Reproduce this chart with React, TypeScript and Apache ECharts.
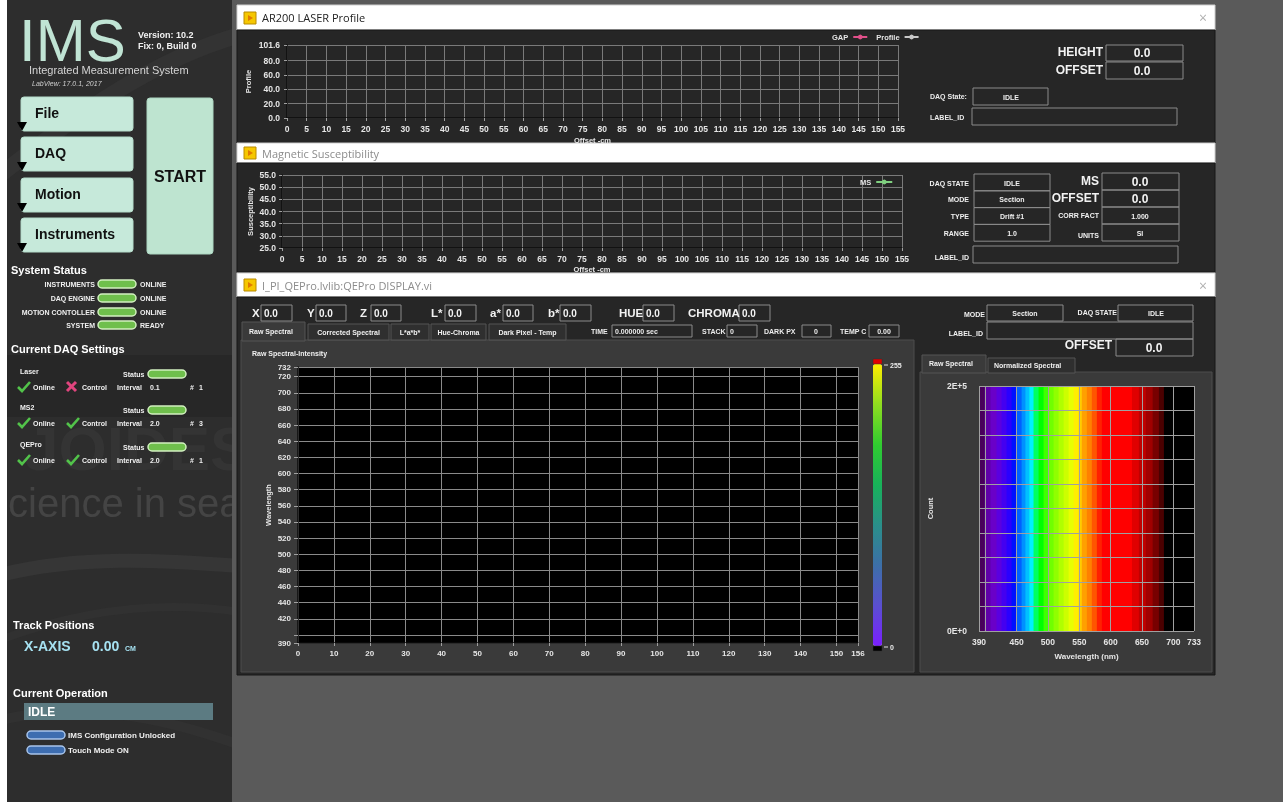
import React, { useEffect, useRef } from "react";
import * as echarts from "echarts";

// ---------------- data ----------------
const LASER_X_RANGE = [0, 155];
const LASER_X_STEP = 5;
const LASER_Y_TICKS = [0, 20, 40, 60, 80, 101.6];
const GAP_VALUES: number[][] = [];
const PROFILE_VALUES: number[][] = [];

const MS_X_RANGE = [0, 155];
const MS_Y_RANGE = [25, 55];
const MS_Y_STEP = 5;
const MS_VALUES: number[][] = [];

const HEAT_X_RANGE = [0, 156];
const HEAT_X_STEP = 10;
const HEAT_Y_RANGE = [390, 732];
const HEAT_Y_TICKS = [390, 400, 420, 440, 460, 480, 500, 520, 540, 560, 580, 600, 620, 640, 660, 680, 700, 720, 732];
const HEAT_Y_LABELS = [390, 420, 440, 460, 480, 500, 520, 540, 560, 580, 600, 620, 640, 660, 680, 700, 720, 732];
const INTENSITY_VALUES: number[][] = [];
const INTENSITY_RANGE = [0, 255];

const SPEC_X_RANGE = [390, 733];
const SPEC_X_TICKS = [390, 400, 450, 500, 550, 600, 650, 700, 733];
const SPEC_X_LABELS = [390, 450, 500, 550, 600, 650, 700, 733];
const COUNT_RANGE = [0, 200000];
const COUNT_STEP = 20000;
const BAND_START = [390, 399, 408, 418, 426, 434, 442, 450, 458, 464, 470, 477, 485, 493, 501, 509, 517, 525, 533, 541, 549, 554, 562, 570, 578, 586, 634, 645, 656, 667, 677, 685];
const BAND_COLORS = ["#48005a", "#6000a8", "#6a00c8", "#5a00e0", "#4400f0", "#2a00ff", "#0010ff", "#0060ff", "#0090ff", "#00c0ff", "#00f0ff", "#00ff60", "#00ff00", "#40ff00", "#70ff00", "#90ff00", "#b0ff00", "#ccff00", "#e8ff00", "#ffee00", "#ffcc00", "#ffa000", "#ff8000", "#ff5500", "#ff2000", "#ff0000", "#e00000", "#c00000", "#a00000", "#780000", "#4a0000", "#000000"];

// ---------------- helpers ----------------
const F = "Arial, 'Liberation Sans', sans-serif";
const FT = "'Open Sans', 'Noto Sans', sans-serif";
const g: any[] = [];
const rect = (x: number, y: number, w: number, h: number, fill: any, stroke?: string, lw = 1, r = 0, z = -10) =>
  g.push({ type: "rect", z, silent: true, shape: { x, y, width: w, height: h, r }, style: { fill, stroke: stroke || null, lineWidth: lw } });
const text = (x: number, y: number, t: string, font: string, fill = "#ececec", align = "left", z = 60) =>
  g.push({ type: "text", z, silent: true, x, y, style: { text: t, font, fill, textAlign: align, textVerticalAlign: "middle", align, verticalAlign: "middle" } });
const box = (x: number, y: number, w: number, h: number) => rect(x, y, w, h, "rgba(0,0,0,0)", "#8a8a8a", 1, 0, 40);
const pill = (x: number, y: number, fill: string, stroke: string) => rect(x, y, 38, 8, fill, stroke, 1.5, 4, 40);
const green = (x: number, y: number) => pill(x, y, "#6fbf4c", "#d2f0c0");
const blue = (x: number, y: number) => pill(x, y, "#3d6db0", "#a8c4ea");
const check = (x: number, y: number) =>
  g.push({ type: "polyline", z: 50, silent: true, shape: { points: [[x, y], [x + 4, y + 4], [x + 12, y - 5]] }, style: { stroke: "#52c34a", lineWidth: 2.6, fill: null } });
const cross = (x: number, y: number) => {
  g.push({ type: "line", z: 50, silent: true, shape: { x1: x, y1: y - 5, x2: x + 9, y2: y + 4 }, style: { stroke: "#e0457e", lineWidth: 3 } });
  g.push({ type: "line", z: 50, silent: true, shape: { x1: x + 9, y1: y - 5, x2: x, y2: y + 4 }, style: { stroke: "#e0457e", lineWidth: 3 } });
};
const tri = (x: number, y: number) =>
  g.push({ type: "polygon", z: 50, silent: true, shape: { points: [[x, y], [x + 10, y], [x + 5, y + 9]] }, style: { fill: "#000" } });
const icon = (x: number, y: number) => {
  rect(x, y, 12, 12, "#f6c700", "#b88a00", 1, 0, 40);
  g.push({ type: "polygon", z: 45, silent: true, shape: { points: [[x + 4, y + 3], [x + 9, y + 6], [x + 4, y + 9]] }, style: { fill: "#e07a00" } });
};
const swoosh = (x1: number, y1: number, cx1: number, cy1: number, cx2: number, cy2: number, x2: number, y2: number, color: string, w: number) =>
  g.push({ type: "bezierCurve", z: -90, silent: true, shape: { x1, y1, cpx1: cx1, cpy1: cy1, cpx2: cx2, cpy2: cy2, x2, y2 }, style: { stroke: color, lineWidth: w, fill: null } });

const b7 = `bold 7px ${F}`;
const b8 = `bold 8px ${F}`;
const b11 = `bold 11px ${F}`;
const b12 = `bold 12px ${F}`;
const b14 = `bold 14px ${F}`;

// page & sidebar
rect(0, 0, 1283, 802, "#5a5a5a", undefined, 1, 0, -100);
rect(7, 0, 225, 802, "#2d2d2d", undefined, 1, 0, -95);
rect(7, 355, 225, 62, "#272727", undefined, 1, 0, -92);
swoosh(0, 175, 70, 120, 150, 60, 240, 35, "#333333", 16);
swoosh(0, 575, 80, 555, 160, 560, 240, 566, "#363636", 14);
swoosh(0, 640, 80, 610, 160, 600, 240, 612, "#313131", 8);
swoosh(0, 720, 90, 700, 170, 720, 240, 745, "#313131", 10);
text(24, 448, "JOIDES", `bold 62px ${F}`, "#343434", "left", -85);
text(8, 503, "cience in sea", `40px ${F}`, "#444444", "left", -85);
rect(232, 0, 1051, 802, "#5a5a5a", undefined, 1, 0, -80);
rect(0, 0, 7, 802, "#ffffff", undefined, 1, 0, -79);

text(19, 40, "IMS", `60px ${F}`, "#c0e4d4");
text(138, 35, "Version: 10.2", `bold 9px ${F}`, "#f2f2f2");
text(138, 46, "Fix: 0, Build 0", `bold 9px ${F}`, "#f2f2f2");
text(29, 70, "Integrated Measurement System", `11px ${F}`, "#d4d4d4");
text(32, 83, "LabView: 17.0.1, 2017", `italic 7px ${F}`, "#cfcfcf");

const BTN = [["File", 97], ["DAQ", 137], ["Motion", 178], ["Instruments", 218]] as const;
BTN.forEach(([t, y]) => {
  rect(21, y, 112, 34, "#c6e9da", "#b5dccb", 1, 3, 20);
  text(35, y + 16, t, b14, "#111111");
  tri(17, y + 25);
});
rect(147, 98, 66, 156, "#bee4d0", "#acd6c1", 1, 3, 20);
text(180, 176, "START", `bold 16px ${F}`, "#111111", "center");

text(11, 270, "System Status", b11, "#ffffff");
const SYS = [["INSTRUMENTS", "ONLINE", 284], ["DAQ ENGINE", "ONLINE", 298], ["MOTION CONTOLLER", "ONLINE", 312], ["SYSTEM", "READY", 325]] as const;
SYS.forEach(([a, b, y]) => {
  text(95, y, a, b7, "#f0f0f0", "right");
  green(98, y - 4);
  text(140, y, b, b7, "#f0f0f0");
});

text(11, 349, "Current DAQ Settings", b11, "#ffffff");
const DAQ = [["Laser", 371, false, "0.1", "1"], ["MS2", 407, true, "2.0", "3"], ["QEPro", 444, true, "2.0", "1"]] as const;
DAQ.forEach(([name, y, ctl, iv, n]) => {
  text(20, y, name, b7, "#f0f0f0");
  text(123, y + 3, "Status", b7, "#f0f0f0");
  green(148, y - 1);
  const r = y + 16;
  check(18, r);
  text(33, r, "Online", b7, "#f0f0f0");
  if (ctl) check(67, r); else cross(67, r);
  text(82, r, "Control", b7, "#f0f0f0");
  text(117, r, "Interval", b7, "#f0f0f0");
  text(150, r, iv, b7, "#f0f0f0");
  text(190, r, "#", b7, "#f0f0f0");
  text(199, r, n, b7, "#f0f0f0");
});

text(13, 625, "Track Positions", b11, "#ffffff");
text(24, 646, "X-AXIS", b14, "#a6e2f2");
text(92, 646, "0.00", b14, "#a6e2f2");
text(125, 648, "CM", `bold 7px ${F}`, "#a6e2f2");
text(13, 693, "Current Operation", b11, "#ffffff");
rect(24, 703, 189, 17, "#5c7b82", undefined, 1, 0, 20);
text(28, 712, "IDLE", b12, "#ffffff");
blue(27, 731);
text(68, 735, "IMS Configuration Unlocked", b8, "#f0f0f0");
blue(27, 746);
text(68, 750, "Touch Mode ON", b8, "#f0f0f0");

// windows
const win = (y: number, th: number, ch: number, title: string, tc: string, close: boolean) => {
  rect(237, y, 978, th, "#ffffff", "#cfcfcf", 1, 0, -60);
  rect(237, y + th, 978, ch, "#262626", "#161616", 1, 0, -60);
  icon(244, y + Math.round(th / 2) - 6);
  text(262, y + th / 2, title, `11px ${FT}`, tc);
  if (close) text(1203, y + th / 2, "×", `14px ${FT}`, "#b0b0b0", "center");
};
win(5, 25, 113, "AR200 LASER Profile", "#222222", true);
win(143, 20, 109, "Magnetic Susceptibility", "#8c8c8c", false);
win(273, 24, 378, "I_PI_QEPro.lvlib:QEPro DISPLAY.vi", "#8c8c8c", true);

// laser right side
text(1103, 52, "HEIGHT", b12, "#f2f2f2", "right");
box(1106, 45, 77, 16);
text(1142, 53, "0.0", b12, "#f2f2f2", "center");
text(1103, 70, "OFFSET", b12, "#f2f2f2", "right");
box(1106, 62, 77, 17);
text(1142, 71, "0.0", b12, "#f2f2f2", "center");
text(930, 96, "DAQ State:", b7);
box(973, 88, 75, 17);
text(1011, 97, "IDLE", b7, "#f0f0f0", "center");
text(930, 117, "LABEL_ID", b7);
box(972, 108, 205, 17);

// MS right side
const MSL = [["DAQ STATE", "IDLE"], ["MODE", "Section"], ["TYPE", "Drift #1"], ["RANGE", "1.0"]];
MSL.forEach(([a, b], i) => {
  const y = 174 + i * 16.8;
  text(969, y + 9, a, b7, "#f0f0f0", "right");
  box(974, y, 76, 16.8);
  text(1012, y + 9, b, b7, "#f0f0f0", "center");
});
const MSR = [["MS", "0.0", b12, b12], ["OFFSET", "0.0", b12, b12], ["CORR FACT", "1.000", b7, b7], ["UNITS", "SI", b7, b7]];
MSR.forEach(([a, b, fa, fb], i) => {
  const y = 173 + i * 17;
  text(1099, y + 8 + (i === 3 ? 3 : 0), a, fa, "#f2f2f2", "right");
  box(1102, y, 77, 17);
  text(1140, y + 9, b, fb, "#f2f2f2", "center");
});
text(969, 257, "LABEL_ID", b7, "#f0f0f0", "right");
box(973, 246, 205, 17);

// QEPro top row
const QV = [["X", 252, 261, 31], ["Y", 307, 316, 30], ["Z", 360, 371, 30], ["L*", 431, 445, 31], ["a*", 490, 503, 30], ["b*", 548, 560, 31], ["HUE", 619, 643, 31], ["CHROMA", 688, 739, 31]] as const;
QV.forEach(([t, tx, bx, bw]) => {
  text(tx, 313, t, `bold 11.5px ${F}`, "#f2f2f2");
  box(bx, 305, bw, 16);
  text(bx + 3, 313, "0.0", `bold 10px ${F}`, "#f2f2f2");
});
rect(241, 340, 673, 332, "#3a3a3a", "#4c4c4c", 1, 0, -50);
rect(242, 322, 63, 19, "#3a3a3a", "#555555", 1, 0, -45);
text(249, 331, "Raw Spectral", b7, "#f0f0f0");
const TABS = [["Corrected Spectral", 308, 81], ["L*a*b*", 391, 38], ["Hue-Chroma", 431, 55], ["Dark Pixel - Temp", 489, 77]] as const;
TABS.forEach(([t, x, w]) => {
  rect(x, 324, w, 16, "#2f2f2f", "#555555", 1, 0, -45);
  text(x + w / 2, 332, t, b7, "#f0f0f0", "center");
});
text(591, 331, "TIME", b7);
box(612, 325, 80, 12);
text(615, 331, "0.000000 sec", b7);
text(702, 331, "STACK", b7);
box(727, 325, 30, 12);
text(730, 331, "0", b7);
text(764, 331, "DARK PX", b7);
box(802, 325, 29, 12);
text(816, 331, "0", b7, "#f0f0f0", "center");
text(840, 331, "TEMP C", b7);
box(869, 325, 30, 12);
text(884, 331, "0.00", b7, "#f0f0f0", "center");
text(252, 353, "Raw Spectral-Intensity", b7, "#f0f0f0");
rect(873, 359, 9, 5, "#e00000", "#333", 0.5, 0, 30);
rect(873, 646, 9, 5, "#000000", "#333", 0.5, 0, 30);
g.push({ type: "line", z: 30, silent: true, shape: { x1: 884, y1: 365, x2: 888, y2: 365 }, style: { stroke: "#ddd", lineWidth: 1 } });
g.push({ type: "line", z: 30, silent: true, shape: { x1: 884, y1: 647, x2: 888, y2: 647 }, style: { stroke: "#ddd", lineWidth: 1 } });
text(890, 365, String(INTENSITY_RANGE[1]), b7);
text(890, 647, String(INTENSITY_RANGE[0]), b7);

// QEPro right section
text(985, 314, "MODE", b7, "#f0f0f0", "right");
box(987, 305, 76, 16);
text(1025, 313, "Section", b7, "#f0f0f0", "center");
text(1117, 312, "DAQ STATE", b7, "#f0f0f0", "right");
box(1118, 305, 75, 16);
text(1156, 313, "IDLE", b7, "#f0f0f0", "center");
text(983, 333, "LABEL_ID", b7, "#f0f0f0", "right");
box(987, 322, 206, 17);
text(1112, 345, "OFFSET", b12, "#f2f2f2", "right");
box(1116, 339, 77, 17);
text(1154, 348, "0.0", b12, "#f2f2f2", "center");
rect(920, 372, 292, 300, "#3a3a3a", "#4c4c4c", 1, 0, -50);
rect(922, 355, 64, 18, "#3a3a3a", "#555555", 1, 0, -45);
text(929, 363, "Raw Spectral", b7, "#f0f0f0");
rect(988, 358, 87, 15, "#2f2f2f", "#555555", 1, 0, -45);
text(994, 365, "Normalized Spectral", b7, "#f0f0f0");

// ---------------- option ----------------
const LBL = "#e6e6e6";
const axisCommon = (font: number, margin: number) => ({
  axisLabel: { color: LBL, fontSize: font, fontWeight: "bold", fontFamily: F, margin },
  axisLine: { show: true, lineStyle: { color: "#0c0c0c", width: 1.5 } },
  axisTick: { show: true, length: 3, lineStyle: { color: "#a0a0a0" } },
  splitLine: { show: true, lineStyle: { color: "#7a7a7a", width: 1 } },
  nameTextStyle: { color: LBL, fontSize: 7.5, fontWeight: "bold", fontFamily: F },
});

const bandData = BAND_START.map((s, i) => [s, i + 1 < BAND_START.length ? BAND_START[i + 1] : SPEC_X_RANGE[1]]);

const option: any = {
  animation: false,
  backgroundColor: "transparent",
  graphic: { elements: g },
  grid: [
    { left: 287, top: 45, width: 611, height: 73 },
    { left: 282, top: 175, width: 620, height: 73 },
    { left: 298, top: 367, width: 560, height: 276, show: true, backgroundColor: "#000000", borderWidth: 0 },
    { left: 979, top: 386, width: 215, height: 245, show: true, backgroundColor: "#000000", borderWidth: 0 },
  ],
  legend: [
    { data: ["GAP", "Profile"], left: 832, top: 33, align: "right", itemWidth: 14, itemHeight: 6, itemGap: 8, padding: 0, textStyle: { color: LBL, fontSize: 7.5, fontWeight: "bold", fontFamily: F } },
    { data: ["MS"], left: 860, top: 178, align: "right", itemWidth: 16, itemHeight: 6, padding: 0, textStyle: { color: LBL, fontSize: 7.5, fontWeight: "bold", fontFamily: F } },
  ],
  xAxis: [
    { ...axisCommon(8.5, 6), gridIndex: 0, type: "value", min: LASER_X_RANGE[0], max: LASER_X_RANGE[1], interval: LASER_X_STEP, name: "Offset -cm", nameLocation: "middle", nameGap: 18 },
    { ...axisCommon(8.5, 6), gridIndex: 1, type: "value", min: MS_X_RANGE[0], max: MS_X_RANGE[1], interval: LASER_X_STEP, name: "Offset -cm", nameLocation: "middle", nameGap: 17 },
    { ...axisCommon(8, 6), gridIndex: 2, type: "value", min: HEAT_X_RANGE[0], max: HEAT_X_RANGE[1], interval: HEAT_X_STEP, splitLine: { show: true, lineStyle: { color: "#8a8a8a" } } },
    {
      ...axisCommon(8.5, 6), gridIndex: 3, type: "value", min: SPEC_X_RANGE[0], max: SPEC_X_RANGE[1], z: 5,
      name: "Wavelength (nm)", nameLocation: "middle", nameGap: 21, nameTextStyle: { color: LBL, fontSize: 8, fontWeight: "bold", fontFamily: F },
      axisLabel: { color: LBL, fontSize: 8.5, fontWeight: "bold", fontFamily: F, margin: 6, customValues: SPEC_X_LABELS },
      axisTick: { show: false, customValues: SPEC_X_TICKS },
      axisLine: { show: false },
      splitLine: { show: true, lineStyle: { color: "#a0a0a0", width: 1 } },
    },
  ],
  yAxis: [
    {
      ...axisCommon(8.5, 8), gridIndex: 0, type: "value", min: LASER_Y_TICKS[0], max: LASER_Y_TICKS[LASER_Y_TICKS.length - 1],
      name: "Profile", nameLocation: "middle", nameRotate: 90, nameGap: 35,
      axisLabel: { color: LBL, fontSize: 8.5, fontWeight: "bold", fontFamily: F, margin: 7, customValues: LASER_Y_TICKS, formatter: (v: number) => v.toFixed(1) },
      axisTick: { show: true, length: 3, lineStyle: { color: "#a0a0a0" }, customValues: LASER_Y_TICKS },
    },
    {
      ...axisCommon(8.5, 6), gridIndex: 1, type: "value", min: MS_Y_RANGE[0], max: MS_Y_RANGE[1], interval: MS_Y_STEP,
      name: "Susceptibility", nameLocation: "middle", nameRotate: 90, nameGap: 28,
      axisLabel: { color: LBL, fontSize: 8.5, fontWeight: "bold", fontFamily: F, margin: 6, formatter: (v: number) => v.toFixed(1) },
    },
    {
      ...axisCommon(8, 7), gridIndex: 2, type: "value", min: HEAT_Y_RANGE[0], max: HEAT_Y_RANGE[1],
      name: "Wavelength", nameLocation: "middle", nameRotate: 90, nameGap: 26,
      axisLabel: { color: LBL, fontSize: 8, fontWeight: "bold", fontFamily: F, margin: 7, customValues: HEAT_Y_LABELS },
      axisTick: { show: true, length: 4, lineStyle: { color: "#a0a0a0" }, customValues: HEAT_Y_TICKS },
      splitLine: { show: true, lineStyle: { color: "#8a8a8a" } },
    },
    {
      ...axisCommon(8.5, 12), gridIndex: 3, type: "value", min: COUNT_RANGE[0], max: COUNT_RANGE[1], interval: COUNT_STEP, z: 5,
      name: "Count", nameLocation: "middle", nameRotate: 90, nameGap: 45,
      axisLabel: { color: LBL, fontSize: 8.5, fontWeight: "bold", fontFamily: F, margin: 12, formatter: (v: number) => (v === COUNT_RANGE[0] ? "0E+0" : v === COUNT_RANGE[1] ? "2E+5" : "") },
      axisTick: { show: false },
      axisLine: { show: false },
      splitLine: { show: true, lineStyle: { color: "#a0a0a0", width: 1 } },
    },
  ],
  visualMap: {
    type: "continuous", seriesIndex: 3, min: INTENSITY_RANGE[0], max: INTENSITY_RANGE[1], orient: "vertical",
    left: 873, top: 364, itemWidth: 9, itemHeight: 282, padding: 0, calculable: false, text: null, show: true,
    inRange: { color: ["#7a1fff", "#5a4fd0", "#3d6fa8", "#2a8f8a", "#18b25a", "#30cc30", "#90dd20", "#ffee00"] },
  },
  series: [
    { name: "GAP", type: "line", xAxisIndex: 0, yAxisIndex: 0, data: GAP_VALUES, color: "#e0508a", symbol: "circle", symbolSize: 4 },
    { name: "Profile", type: "line", xAxisIndex: 0, yAxisIndex: 0, data: PROFILE_VALUES, color: "#c8c8c8", symbol: "none" },
    { name: "MS", type: "line", xAxisIndex: 1, yAxisIndex: 1, data: MS_VALUES, color: "#7fd07f", symbol: "circle", symbolSize: 4 },
    { name: "Intensity", type: "scatter", xAxisIndex: 2, yAxisIndex: 2, data: INTENSITY_VALUES },
    {
      name: "Spectrum", type: "custom", xAxisIndex: 3, yAxisIndex: 3, z: 1, clip: true, data: bandData,
      renderItem: (params: any, api: any) => {
        const p0 = api.coord([api.value(0), COUNT_RANGE[1]]);
        const p1 = api.coord([api.value(1), COUNT_RANGE[0]]);
        return { type: "rect", shape: { x: p0[0], y: p0[1], width: p1[0] - p0[0] + 0.6, height: p1[1] - p0[1] }, style: { fill: BAND_COLORS[params.dataIndex] } };
      },
    },
  ],
};

export default function App() {
  const ref = useRef<HTMLDivElement>(null);
  useEffect(() => {
    const chart = echarts.init(ref.current!, null, { renderer: "svg" });
    chart.setOption(option);
    return () => chart.dispose();
  }, []);
  return <div ref={ref} style={{ position: "fixed", left: 0, top: 0, width: 1283, height: 802 }} />;
}
